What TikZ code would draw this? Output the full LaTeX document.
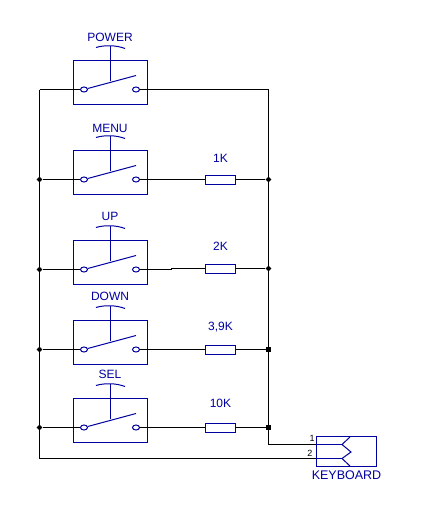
\documentclass[tikz,border=0pt]{standalone}
\usepackage{fontspec}
\setmainfont{Liberation Sans}
\usetikzlibrary{shapes.geometric,positioning,calc}
\definecolor{schblue}{RGB}{0,0,160}

\begin{document}
\begin{tikzpicture}[x=1pt, y=-1pt, semithick, line width=1pt]
\tikzstyle{wire}=[draw=black,line width=1pt]
\tikzstyle{part}=[draw=schblue,line width=1pt]
\tikzstyle{swbox}=[draw=schblue,line width=1pt,minimum width=74pt,minimum height=44pt,inner sep=0pt]
\tikzstyle{contact}=[ellipse,draw=schblue,line width=1pt,fill=white,minimum width=7pt,minimum height=5pt,inner sep=0pt]
\tikzstyle{resistor}=[draw=schblue,line width=1pt,minimum width=30pt,minimum height=9pt,inner sep=0pt]
\tikzstyle{dot}=[diamond,fill=black,minimum size=6pt,inner sep=0pt]
\tikzstyle{sqdot}=[rectangle,fill=black,minimum size=5pt,inner sep=0pt]
\tikzstyle{label}=[text=schblue,font=\fontsize{12}{12}\selectfont,inner sep=0pt,text depth=0pt]
\tikzstyle{pin}=[text=black,font=\fontsize{9}{9}\selectfont,inner sep=0pt]
\useasboundingbox (0,-0.5) rectangle (430,516.5);
% switches
\foreach \name/\wy/\ly/\txt in {P/89/36.5/POWER,M/179/127.5/MENU,U/269/216/UP,D/349/296/DOWN,S/427/374/SEL}{
\node[swbox]    (box\name) at (110.5,\wy-7) {};
\node[contact]  (cl\name)  at (84,\wy) {};
\node[contact]  (cr\name)  at (136,\wy) {};
\node[label]    (txt\name) at (110,\ly) {\txt};
\coordinate (end\name)  at (136,\wy-14);
\coordinate (stem\name) at (110.5,\wy-9);
\coordinate (top\name)  at (110.5,\wy-44);
\draw[part] (cl\name) -- (end\name);
\draw[part] (stem\name) -- (top\name);
\draw[part] (96,\wy-42) .. controls (104,\wy-44.5) and (116,\wy-44.5) .. (125,\wy-41);
}
% resistors
\foreach \name/\wy/\ly/\txt in {M/179/158/1K,U/268/245.5/2K,D/349/325.5/{3,9K},S/427/403/10K}{
\node[resistor] (res\name) at (220.5,\wy) {};
\node[label]    (val\name) at (220.5,\ly) {\txt};
}
% keyboard connector
\node[part,minimum width=60pt,minimum height=30pt,inner sep=0pt] (kbd) at (346.5,451) {};
\node[label,font=\fontsize{12.5}{12.5}\selectfont] (kbdtxt) at (346.5,474.5) {KEYBOARD};
\node[pin]      (pinA) at (312,438) {1};
\node[pin]      (pinB) at (310,453) {2};
\coordinate (inA) at (342,444);
\coordinate (inB) at (342,458);
\draw[part] (kbd.west |- inA) -- (inA);
\draw[part] (kbd.west |- inB) -- (inB);
\draw[part] (350,436.5) -- (inA) -- (351,451.5) -- (inB) -- (350,465.5);
% rails
\coordinate (tl) at (39.5,89);
\coordinate (bl) at (39.5,458);
\coordinate (tr) at (268.5,89);
\coordinate (br) at (268.5,444);
\draw[wire] (crP) -- (tr) -- (br) -- (kbd.west |- inA);
\draw[wire] (tl) -- (clP);
\draw[wire] (tl) -- (bl) -- (kbd.west |- inB);
% junctions
\foreach \name/\wl/\wr/\rdot in {M/179/179/dot,U/269/268/dot,D/349/349/sqdot,S/427/427/sqdot}{
\node[dot]   (jl\name) at (39.5,\wl) {};
\node[\rdot] (jr\name) at (268.5,\wr) {};
\draw[wire] (jl\name) -- (cl\name);
\draw[wire] (res\name) -- (jr\name);
}
\foreach \name in {M,D,S}{
\draw[wire] (cr\name) -- (res\name);
}
\coordinate (jog) at (171,269);
\draw[wire] (crU) -- (jog) -- (jog |- resU) -- (resU);
\end{tikzpicture}
\end{document}
